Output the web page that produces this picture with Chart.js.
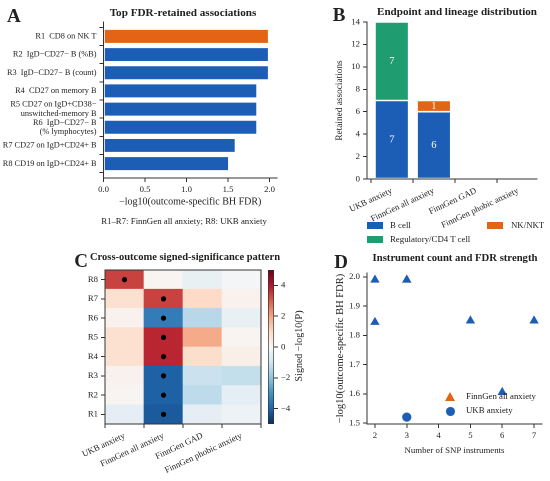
<!DOCTYPE html>
<html><head><meta charset="utf-8">
<script src="https://cdn.jsdelivr.net/npm/chart.js@4.4.0/dist/chart.umd.min.js"></script>
<style>
body{margin:0;background:#fff;width:550px;height:481px;position:relative;overflow:hidden;font-family:'Liberation Serif',serif;color:#222}
canvas{position:absolute}
.t{position:absolute;white-space:nowrap;line-height:1}
.c{transform:translate(-50%,-50%)}
.b{font-weight:bold}
.sw{position:absolute;width:16px;height:7px}
</style></head><body>
<canvas id="cA" width="285" height="232" style="left:0;top:0"></canvas>
<canvas id="cB" width="270" height="232" style="left:280px;top:0"></canvas>
<canvas id="cC" width="265" height="241" style="left:0;top:240px"></canvas>
<canvas id="cCb" width="45" height="241" style="left:262px;top:240px"></canvas>
<canvas id="cD" width="260" height="241" style="left:290px;top:240px"></canvas>

<div class="t b" style="left:7px;top:6px;font-size:19px">A</div>
<div class="t b c" style="left:183px;top:13px;font-size:11.2px">Top FDR-retained associations</div>
<div class="t c" style="left:184px;top:221px;font-size:8.8px">R1–R7: FinnGen all anxiety; R8: UKB anxiety</div>

<div class="t b c" style="left:339px;top:14px;font-size:19px">B</div>
<div class="t b c" style="left:457px;top:12px;font-size:11.1px">Endpoint and lineage distribution</div>
<div class="sw" id="swB" style="left:367px;top:222px"></div>
<div class="t" style="left:390px;top:221px;font-size:8.8px">B cell</div>
<div class="sw" id="swN" style="left:487px;top:222px"></div>
<div class="t" style="left:511px;top:221px;font-size:8.8px">NK/NKT</div>
<div class="sw" id="swR" style="left:367px;top:236px"></div>
<div class="t" style="left:390px;top:235px;font-size:8.8px">Regulatory/CD4 T cell</div>

<div class="t b c" style="left:81px;top:260px;font-size:19px">C</div>
<div class="t b c" style="left:185px;top:257px;font-size:10.5px">Cross-outcome signed-significance pattern</div>
<div class="t c" style="left:299px;top:346px;font-size:10px;transform:translate(-50%,-50%) rotate(-90deg)">Signed −log10(P)</div>

<div class="t b c" style="left:341px;top:261px;font-size:19px">D</div>
<div class="t b c" style="left:455px;top:257px;font-size:10.7px">Instrument count and FDR strength</div>
<div id="triD" style="position:absolute;left:445px;top:392px;width:0;height:0;border-left:5px solid transparent;border-right:5px solid transparent;border-bottom:9px solid #e36414"></div>
<div class="t" style="left:466px;top:392px;font-size:8.8px">FinnGen all anxiety</div>
<div id="cirD" style="position:absolute;left:445.5px;top:406.5px;width:9px;height:9px;border-radius:50%"></div>
<div class="t" style="left:466px;top:406px;font-size:8.8px">UKB anxiety</div>

<script>
// ---------- data ----------
// Panel A
const assocLabels = [
  'R1  CD8 on NK T',
  'R2  IgD−CD27− B (%B)',
  'R3  IgD−CD27− B (count)',
  'R4  CD27 on memory B',
  ['R5 CD27 on IgD+CD38−', 'unswitched-memory B'],
  ['R6  IgD−CD27− B', '(% lymphocytes)'],
  'R7 CD27 on IgD+CD24+ B',
  'R8 CD19 on IgD+CD24+ B'
];
const assocFDR = [1.99, 1.99, 1.99, 1.85, 1.85, 1.85, 1.59, 1.51];
const assocLineage = ['NK/NKT', 'B cell', 'B cell', 'B cell', 'B cell', 'B cell', 'B cell', 'B cell'];
const fdrTicksA = [0, 0.5, 1.0, 1.5, 2.0];

// Panel B
const outcomes = ['UKB anxiety', 'FinnGen all anxiety', 'FinnGen GAD', 'FinnGen phobic anxiety'];
const countBcell = [7, 6, 0, 0];
const countTreg = [7, 0, 0, 0];
const countNK = [0, 1, 0, 0];
const countTicks = [0, 2, 4, 6, 8, 10, 12, 14];

// Panel C (rows R1..R8)
const heatRows = ['R1', 'R2', 'R3', 'R4', 'R5', 'R6', 'R7', 'R8'];
const heatUKB    = [-0.5,  0.1,  0.2, 0.8, 0.8,  0.2, 0.8, 3.4];
const heatAll    = [-4.2, -4.1, -4.1, 3.8, 3.8, -3.5, 3.4, 0.1];
const heatGAD    = [-0.5, -1.3, -1.1, 0.9, 1.9, -1.4, 1.0, -0.4];
const heatPhobic = [-0.3, -0.5, -1.2, 0.3, 0.1, -0.4, 0.2, -0.1];
const sigCol = ['UKB anxiety', 'FinnGen all anxiety', 'FinnGen all anxiety', 'FinnGen all anxiety', 'FinnGen all anxiety', 'FinnGen all anxiety', 'FinnGen all anxiety', 'FinnGen all anxiety'];
const sigRow = [8, 7, 6, 5, 4, 3, 2, 1];
const cbarMin = -5, cbarMax = 5;
const cbarTicks = [-4, -2, 0, 2, 4];

// Panel D
const finnSNP = [3, 2, 3, 2, 5, 7, 6];
const finnFDR = [1.99, 1.99, 1.99, 1.845, 1.85, 1.85, 1.605];
const finnLineage = ['NK/NKT', 'B cell', 'B cell', 'B cell', 'B cell', 'B cell', 'B cell'];
const ukbSNP = [3];
const ukbFDR = [1.52];
const snpTicks = [2, 3, 4, 5, 6, 7];
const fdrTicksD = [1.5, 1.6, 1.7, 1.8, 1.9, 2.0];

// ---------- style ----------
const FONT = 'Liberation Serif';
const TXT = '#222';
const AX = '#333';
const TICK = 8.7;
const BLUE = '#1c5db5', ORANGE = '#e36414', GREEN = '#1f9d70';
const lineageColor = {'B cell': BLUE, 'NK/NKT': ORANGE, 'Regulatory/CD4 T cell': GREEN};
document.getElementById('swB').style.background = BLUE;
document.getElementById('swN').style.background = ORANGE;
document.getElementById('swR').style.background = GREEN;
document.getElementById('cirD').style.background = BLUE;

const RDBU_R = ['#053061','#2166ac','#4393c3','#92c5de','#d1e5f0','#f7f7f7','#fddbc7','#f4a582','#d6604d','#b2182b','#67001f'];
function hex2rgb(h){return [parseInt(h.slice(1,3),16),parseInt(h.slice(3,5),16),parseInt(h.slice(5,7),16)];}
function cmap(v){
  let t = (v - cbarMin) / (cbarMax - cbarMin); t = Math.max(0, Math.min(1, t));
  const p = t * 10; const i = Math.min(9, Math.floor(p)); const f = p - i;
  const a = hex2rgb(RDBU_R[i]), b = hex2rgb(RDBU_R[i + 1]);
  return 'rgb(' + a.map((x, k) => Math.round(x + (b[k] - x) * f)).join(',') + ')';
}
function minus(v){ return v < 0 ? '\u2212' + Math.abs(v) : String(v); }

function axis(o){
  return {
    type: o.type || 'linear',
    position: o.position,
    min: o.min, max: o.max, reverse: !!o.reverse,
    stacked: o.stacked,
    offset: o.offset,
    grid: {display: true, drawOnChartArea: false, drawTicks: true, tickLength: 4, tickColor: AX, tickWidth: 1},
    border: {display: true, color: AX, width: 1},
    ticks: Object.assign({color: TXT, font: {family: FONT, size: o.fsize || TICK, lineHeight: 1.12}, padding: 3, autoSkip: false,
      minRotation: o.rot || 0, maxRotation: o.rot || 0}, o.ticks || {}),
    title: o.title ? {display: true, text: o.title, color: TXT, font: {family: FONT, size: o.tsize || 10, lineHeight: 1.2}, padding: {top: o.tpad, bottom: o.tpad}} : {display: false},
    afterBuildTicks: o.tickVals ? (s => { s.ticks = o.tickVals.map(v => ({value: v})); }) : undefined,
    afterFit: s => { if (o.w !== undefined) s.width = o.w; if (o.h !== undefined) s.height = o.h; }
  };
}
const base = {responsive: false, animation: false, devicePixelRatio: 2,
  plugins: {legend: {display: false}, tooltip: {enabled: false}}};

// ---------- Panel A ----------
new Chart(document.getElementById('cA'), {
  type: 'bar',
  data: {datasets: [{
    data: assocFDR.map((v, i) => ({x: v, y: i})),
    backgroundColor: assocLineage.map(l => lineageColor[l]),
    borderColor: '#ffffff', borderWidth: 0.8, borderSkipped: false,
    barPercentage: 0.8, categoryPercentage: 1
  }]},
  options: Object.assign({}, base, {
    indexAxis: 'y',
    layout: {padding: {left: 0, top: 22, right: 8, bottom: 0}},
    scales: {
      x: axis({min: 0, max: 2.09, tickVals: fdrTicksA, h: 54, title: '−log10(outcome-specific BH FDR)', tpad: 24,
        ticks: {callback: v => v.toFixed(1)}}),
      y: axis({min: -0.79, max: 7.79, reverse: true, tickVals: [0,1,2,3,4,5,6,7], w: 103.5, fsize: 8.3,
        ticks: {callback: v => assocLabels[v]}})
    }
  })
});

// ---------- Panel B ----------
const barLabels = {id: 'barLabels', afterDatasetsDraw(chart){
  const c = chart.ctx; c.save(); c.fillStyle = '#fff'; c.font = '10.5px "Liberation Serif"';
  c.textAlign = 'center'; c.textBaseline = 'middle';
  chart.data.datasets.forEach((ds, di) => {
    chart.getDatasetMeta(di).data.forEach((el, i) => {
      const v = ds.data[i].y;
      if (v > 0) c.fillText(String(v), el.x, (el.y + el.base) / 2);
    });
  });
  c.restore();
}};
function stackDs(label, arr, color){
  return {label, data: arr.map((v, i) => ({x: i, y: v})), backgroundColor: color,
    borderColor: '#ffffff', borderWidth: 0.8, borderSkipped: false, barPercentage: 0.8, categoryPercentage: 1};
}
new Chart(document.getElementById('cB'), {
  type: 'bar',
  data: {datasets: [
    stackDs('B cell', countBcell, BLUE),
    stackDs('Regulatory/CD4 T cell', countTreg, GREEN),
    stackDs('NK/NKT', countNK, ORANGE)
  ]},
  options: Object.assign({}, base, {
    layout: {padding: {left: 0, top: 22, right: 13, bottom: 0}},
    scales: {
      x: axis({min: -0.59, max: 3.45, stacked: true, tickVals: [0,1,2,3], h: 53, rot: 25,
        ticks: {callback: v => outcomes[v]}}),
      y: axis({min: 0, max: 14, stacked: true, tickVals: countTicks, w: 87, title: 'Retained associations', tsize: 9.3, tpad: 54})
    }
  }),
  plugins: [barLabels]
});

// ---------- Panel C heatmap ----------
const heatCols = [heatUKB, heatAll, heatGAD, heatPhobic];
const frame = {id: 'frame', afterDatasetsDraw(chart){
  const a = chart.chartArea, c = chart.ctx; c.save(); c.strokeStyle = AX; c.lineWidth = 1;
  c.strokeRect(a.left, a.top, a.right - a.left, a.bottom - a.top); c.restore();
}};
const heatDatasets = heatRows.map((r, i) => ({
  type: 'bar', order: 2,
  data: outcomes.map(() => [i + 0.5, i + 1.5]),
  backgroundColor: outcomes.map((o, j) => cmap(heatCols[j][i])),
  borderWidth: 0, grouped: false, barPercentage: 1, categoryPercentage: 1
}));
heatDatasets.push({
  type: 'line', order: 1, showLine: false,
  data: sigCol.map((c, k) => ({x: c, y: sigRow[k]})),
  pointRadius: 2.6, pointBackgroundColor: '#000', pointBorderWidth: 0, borderColor: '#000'
});
new Chart(document.getElementById('cC'), {
  type: 'bar',
  data: {labels: outcomes, datasets: heatDatasets},
  options: Object.assign({}, base, {
    layout: {padding: {left: 0, top: 30, right: 4, bottom: 0}},
    scales: {
      x: axis({type: 'category', offset: true, h: 57, rot: 25}),
      y: axis({min: 0.5, max: 8.5, tickVals: [1,2,3,4,5,6,7,8], w: 105,
        ticks: {callback: v => heatRows[v - 1]}})
    }
  }),
  plugins: [frame]
});

// ---------- Panel C colorbar ----------
new Chart(document.getElementById('cCb'), {
  type: 'bar',
  data: {labels: ['cbar'], datasets: [{
    data: [[cbarMin, cbarMax]],
    backgroundColor: ctx => {
      const ch = ctx.chart, a = ch.chartArea; if (!a) return '#fff';
      const g = ch.ctx.createLinearGradient(0, a.bottom, 0, a.top);
      for (let k = 0; k <= 20; k++) g.addColorStop(k / 20, cmap(cbarMin + (cbarMax - cbarMin) * k / 20));
      return g;
    },
    borderColor: AX, borderWidth: 1, borderSkipped: false, barPercentage: 1, categoryPercentage: 1
  }]},
  options: Object.assign({}, base, {
    layout: {padding: {left: 6, top: 30, right: 0, bottom: 57}},
    scales: {
      x: {display: false},
      y: Object.assign(axis({min: cbarMin, max: cbarMax, position: 'right', tickVals: cbarTicks, w: 33,
        ticks: {callback: v => minus(v)}}), {border: {display: false}})
    }
  })
});

// ---------- Panel D ----------
new Chart(document.getElementById('cD'), {
  type: 'scatter',
  data: {datasets: [
    {label: 'UKB anxiety', order: 1, data: ukbSNP.map((x, i) => ({x, y: ukbFDR[i]})),
      pointStyle: 'circle', pointRadius: 4.6, pointBackgroundColor: BLUE, pointBorderColor: BLUE, pointBorderWidth: 0},
    {label: 'FinnGen all anxiety', order: 2, data: finnSNP.map((x, i) => ({x, y: finnFDR[i]})),
      pointStyle: 'triangle', pointRadius: 5.4, pointBackgroundColor: finnLineage.map(l => lineageColor[l]),
      pointBorderColor: finnLineage.map(l => lineageColor[l]), pointBorderWidth: 0}
  ]},
  options: Object.assign({}, base, {
    layout: {padding: {left: 0, top: 33, right: 8, bottom: 0}},
    scales: {
      x: axis({min: 1.75, max: 7.25, tickVals: snpTicks, h: 57, title: 'Number of SNP instruments', tsize: 8.8, tpad: 25}),
      y: axis({min: 1.4965, max: 2.0135, tickVals: fdrTicksD, w: 77, title: '−log10(outcome-specific BH FDR)', tsize: 10.5, tpad: 44,
        ticks: {callback: v => v.toFixed(1)}})
    }
  })
});
</script>
</body></html>
